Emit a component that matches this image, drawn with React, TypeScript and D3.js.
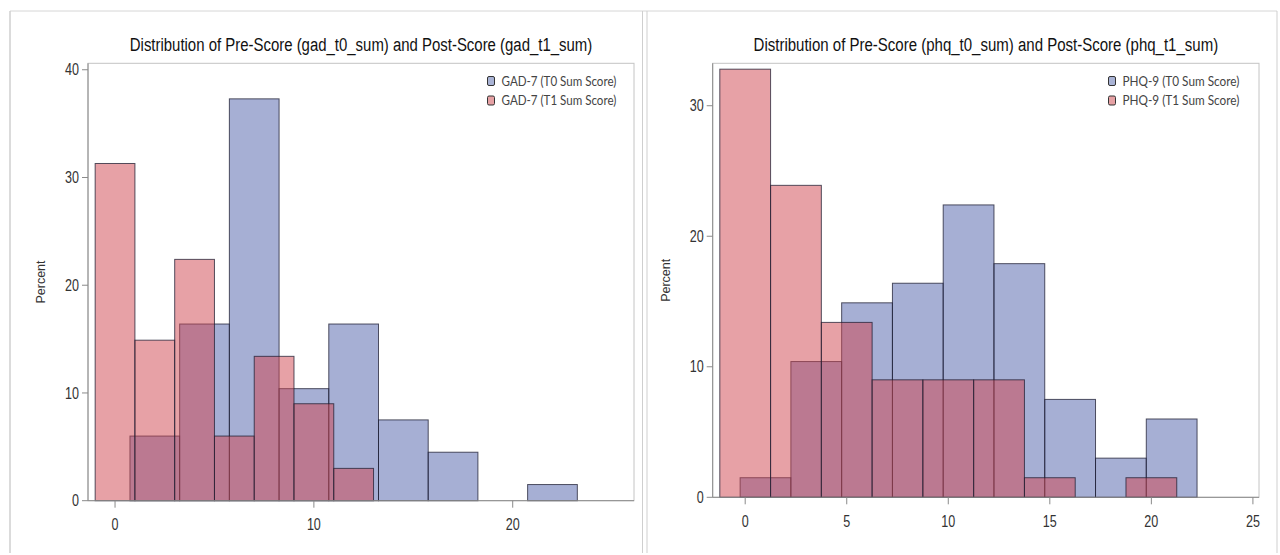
import React, { useRef, useLayoutEffect, useState } from "react";
import { scaleLinear } from "d3";

// bin edges (score units) and percent per bin
const gadT0Edges = [0.75, 3.25, 5.75, 8.25, 10.75, 13.25, 15.75, 18.25, 20.75, 23.25];
const gadT0Pct = [6.0, 16.4, 37.3, 10.4, 16.4, 7.5, 4.5, 0, 1.5];
const gadT1Edges = [-1, 1, 3, 5, 7, 9, 11, 13];
const gadT1Pct = [31.3, 14.9, 22.4, 6.0, 13.4, 9.0, 3.0];

const phqT0Edges = [-0.25, 2.25, 4.75, 7.25, 9.75, 12.25, 14.75, 17.25, 19.75, 22.25];
const phqT0Pct = [1.5, 10.4, 14.9, 16.4, 22.4, 17.9, 7.5, 3.0, 6.0];
const phqT1Edges = [-1.25, 1.25, 3.75, 6.25, 8.75, 11.25, 13.75, 16.25, 18.75, 21.25];
const phqT1Pct = [32.8, 23.9, 13.4, 9.0, 9.0, 9.0, 1.5, 0, 1.5];

const gadXTicks = [0, 10, 20];
const gadYTicks = [0, 10, 20, 30, 40];
const phqXTicks = [0, 5, 10, 15, 20, 25];
const phqYTicks = [0, 10, 20, 30];

const gadLegend = ["GAD-7 (T0 Sum Score)", "GAD-7 (T1 Sum Score)"];
const phqLegend = ["PHQ-9 (T0 Sum Score)", "PHQ-9 (T1 Sum Score)"];

const BLUE = "rgba(78,96,170,0.5)";
const RED = "rgba(208,68,78,0.5)";
const NARROW = "'Liberation Sans Narrow', 'Arial Narrow', 'Liberation Sans', Arial, sans-serif";

// squeezes a text horizontally (scaleX) until it is `width` wide, like SAS's condensed font
function FitText({ x, y, width, anchor = "start", children, ...rest }) {
  const ref = useRef(null);
  const [k, setK] = useState(1);
  useLayoutEffect(() => {
    if (!ref.current) return;
    const w = ref.current.getComputedTextLength();
    if (w > 0) setK(width / w);
  }, [width, children]);
  return (
    <g transform={`translate(${x},${y}) scale(${k},1)`}>
      <text ref={ref} x={0} y={0} textAnchor={anchor} {...rest}>
        {children}
      </text>
    </g>
  );
}

function Bars({ edges, pct, x, y, fill }) {
  return (
    <g>
      {pct.map((v, i) =>
        v > 0 ? (
          <rect
            key={i}
            x={x(edges[i])}
            y={y(v)}
            width={x(edges[i + 1]) - x(edges[i])}
            height={y(0) - y(v)}
            fill={fill}
            stroke="rgba(30,30,50,0.75)"
            strokeWidth={1}
          />
        ) : null
      )}
    </g>
  );
}

function Tick({ x, y, anchor, label }) {
  const s = String(label);
  return (
    <FitText x={x} y={y} width={s.length * 7} anchor={anchor} dy="0.35em" fontFamily={NARROW} fontSize={16} fill="#333">
      {s}
    </FitText>
  );
}

function Panel({ title, titleWidth, xDomain, xRange, yDomain, yRange, xTicks, yTicks, t0, t1, legend, legendX, legendW }) {
  const x = scaleLinear().domain(xDomain).range(xRange);
  const y = scaleLinear().domain(yDomain).range(yRange);
  const [left, right] = xRange;
  const [bottom, top] = yRange;
  const cx = (left + right) / 2;

  return (
    <g>
      <FitText x={cx} y={51} width={titleWidth} anchor="middle" fontFamily={NARROW} fontSize={19} fill="#111">
        {title}
      </FitText>

      {/* frame */}
      <rect x={left} y={top} width={right - left} height={bottom - top} fill="#fff" stroke="#c4c4c4" />

      <Bars edges={t0.edges} pct={t0.pct} x={x} y={y} fill={BLUE} />
      <Bars edges={t1.edges} pct={t1.pct} x={x} y={y} fill={RED} />

      {/* axes */}
      <line x1={left} x2={left} y1={top} y2={bottom} stroke="#8a8a8a" />
      <line x1={left} x2={right} y1={bottom} y2={bottom} stroke="#8a8a8a" />

      {yTicks.map((t) => (
        <g key={"y" + t}>
          <line x1={left - 6} x2={left} y1={y(t)} y2={y(t)} stroke="#8a8a8a" />
          <Tick x={left - 9} y={y(t)} anchor="end" label={t} />
        </g>
      ))}
      {xTicks.map((t) => (
        <g key={"x" + t}>
          <line x1={x(t)} x2={x(t)} y1={bottom} y2={bottom + 7} stroke="#8a8a8a" />
          <Tick x={x(t)} y={bottom + 24} anchor="middle" label={t} />
        </g>
      ))}

      <text
        transform={`translate(${left - 43},${(top + bottom) / 2}) rotate(-90)`}
        textAnchor="middle"
        fontFamily="'Liberation Sans', Arial, sans-serif"
        fontSize={12.5}
        fill="#333"
      >
        Percent
      </text>

      {/* legend */}
      {legend.map((label, i) => (
        <g key={label} transform={`translate(${legendX},${81 + i * 19.5})`}>
          <rect x={0} y={-4.5} width={7} height={9} rx={1.5} fill={i === 0 ? "#a9b3d5" : "#e6a1a4"} stroke="#333" strokeWidth={1} />
          <FitText x={14} y={0} width={legendW} dy="0.35em" fontFamily="Lato, 'Open Sans', sans-serif" fontSize={13} fill="#444">
            {label}
          </FitText>
        </g>
      ))}
    </g>
  );
}

export default function App() {
  return (
    <svg
      width={1280}
      height={555}
      style={{ position: "fixed", left: 0, top: 0, background: "#fff" }}
    >
      <rect x={0} y={0} width={1280} height={555} fill="#fff" />
      {/* panel borders */}
      <line x1={10} x2={1277} y1={11} y2={11} stroke="#d6d6d6" />
      <line x1={10} x2={10} y1={11} y2={553} stroke="#cfcfcf" strokeWidth={1.5} />
      <line x1={642.5} x2={642.5} y1={11} y2={553} stroke="#cfcfcf" />
      <line x1={647} x2={647} y1={11} y2={553} stroke="#cfcfcf" />
      <line x1={1277} x2={1277} y1={11} y2={553} stroke="#cfcfcf" />

      <Panel
        title="Distribution of Pre-Score (gad_t0_sum) and Post-Score (gad_t1_sum)"
        titleWidth={463}
        xDomain={[-1.36, 26.1]}
        xRange={[88, 634]}
        yDomain={[0, 40.6]}
        yRange={[500.7, 63.3]}
        xTicks={gadXTicks}
        yTicks={gadYTicks}
        t0={{ edges: gadT0Edges, pct: gadT0Pct }}
        t1={{ edges: gadT1Edges, pct: gadT1Pct }}
        legend={gadLegend}
        legendX={487.5}
        legendW={115}
      />
      <Panel
        title="Distribution of Pre-Score (phq_t0_sum) and Post-Score (phq_t1_sum)"
        titleWidth={465}
        xDomain={[-1.6, 25.3]}
        xRange={[712.7, 1259]}
        yDomain={[0, 33.25]}
        yRange={[497.3, 63.3]}
        xTicks={phqXTicks}
        yTicks={phqYTicks}
        t0={{ edges: phqT0Edges, pct: phqT0Pct }}
        t1={{ edges: phqT1Edges, pct: phqT1Pct }}
        legend={phqLegend}
        legendX={1108.5}
        legendW={117}
      />
    </svg>
  );
}
